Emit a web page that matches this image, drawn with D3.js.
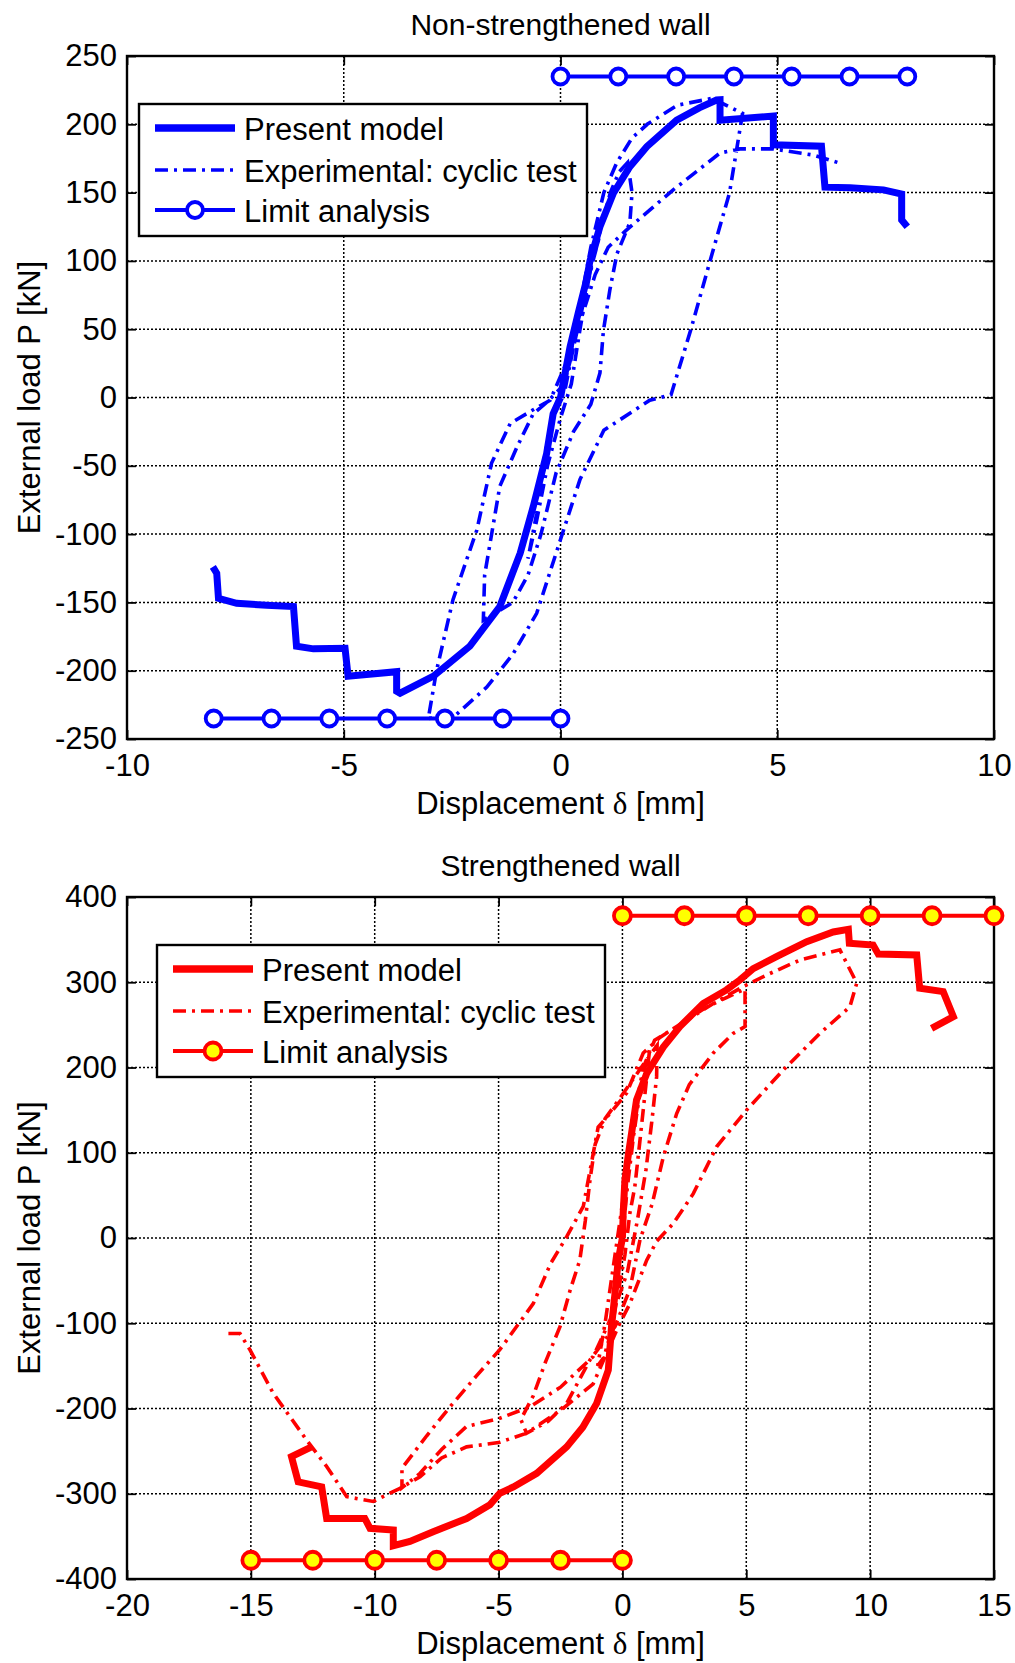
<!DOCTYPE html>
<html>
<head>
<meta charset="utf-8">
<script src="https://cdn.jsdelivr.net/npm/d3@7"></script>
<style>
  body { margin: 0; background: #fff; }
  text { font-family: "Liberation Sans", Arial, sans-serif; fill: #000; }
</style>
</head>
<body>
<svg id="chart" width="1015" height="1663"></svg>
<script>
// ---- tick labels ----
const xTicksTop = [-10, -5, 0, 5, 10];
const yTicksTop = [-250, -200, -150, -100, -50, 0, 50, 100, 150, 200, 250];
const xTicksBot = [-20, -15, -10, -5, 0, 5, 10, 15];
const yTicksBot = [-400, -300, -200, -100, 0, 100, 200, 300, 400];

const legendLabels = ["Present model", "Experimental: cyclic test", "Limit analysis"];

// ---- non-strengthened wall: [displacement mm, load kN] ----
const topModelPos = [[0,0],[0.22,37],[0.41,62],[0.6,86],[0.68,100],[0.91,125],[1.22,149.5],[1.6,169],[1.99,183.6],[2.68,203],[3.2,212],[3.6,217.8],[3.68,218],[3.68,203],[4.91,206],[4.91,185],[6.02,184],[6.1,154],[6.68,153.6],[7.45,152],[7.87,149],[7.87,130],[8.0,125]];
const topModelNeg = [[0,0],[-0.17,-12],[-0.32,-41],[-0.47,-60],[-0.63,-80],[-0.93,-114],[-1.4,-153],[-2.09,-182],[-2.93,-204],[-3.7,-216.5],[-3.78,-215],[-3.78,-200.7],[-4.9,-204],[-4.97,-183.6],[-5.7,-184],[-6.09,-182],[-6.16,-153],[-6.78,-152],[-7.47,-150.7],[-7.89,-147],[-7.93,-128.7],[-8.02,-124]];
const topExp = [[0,0],[0.25,30],[0.5,65],[0.75,100],[0.9,118],[0.7,95],[0.45,50],[0.25,10],[0,-15],[-0.3,-50],[-0.55,-90],[-0.75,-118],[-0.55,-85],[-0.35,-40],[-0.1,-5],[0.1,5],
  [0.35,45],[0.6,85],[0.9,120],[1.15,150],[1.35,165],[1.55,172],[1.65,150],[1.6,128],[1.3,105],[1.14,79],[0.99,49],[0.91,18],[0.7,-5],[0.3,-25],[-0.1,-55],[-0.45,-100],[-0.75,-130],[-1.1,-150],[-1.78,-163],[-1.75,-130],[-1.4,-65],[-1.0,-36],[-0.63,-12],[-0.3,-3],[0.1,10],
  [0.4,60],[0.7,110],[1.0,150],[1.3,172],[1.65,190],[2.0,200],[2.7,214],[3.5,219],[4.2,208],[3.9,150],[3.45,100],[3.0,49],[2.55,2],[2.06,-2],[1.0,-24],[0.45,-60],[0,-104],[-0.55,-158],[-1.1,-188],[-1.7,-212],[-2.4,-232],
  [-3.05,-235],[-2.86,-200],[-2.48,-148],[-1.93,-97],[-1.59,-48],[-1.16,-19],[-0.63,-9],[-0.24,-2],
  [0.2,30],[0.5,60],[0.8,90],[1.1,110],[1.5,122],[2.6,152],[3.68,179],[4.14,182],[4.91,182],[5.83,177.5],[6.45,171.5]];
const topLimitPos = [[0,235],[1.333,235],[2.667,235],[4,235],[5.333,235],[6.667,235],[8,235]];
const topLimitNeg = [[-8,-235],[-6.667,-235],[-5.333,-235],[-4,-235],[-2.667,-235],[-1.333,-235],[0,-235]];

// ---- strengthened wall ----
const botModelPos = [[0,0],[0.03,29],[0.1,68],[0.25,100],[0.37,123],[0.57,162],[0.98,193],[1.65,224],[2.32,248],[3.26,275],[4.2,291],[4.74,302.6],[5.28,316],[6.22,330],[7.44,347.6],[8.51,359],[9.12,362],[9.16,345.7],[10.12,343.7],[10.33,333],[11.88,332],[12.0,293],[12.95,289],[13.36,259.6],[12.48,246]];
const botModelNeg = [[0,0],[-0.17,-26],[-0.3,-65],[-0.44,-104],[-0.57,-155],[-1.04,-194],[-1.6,-222],[-2.25,-245],[-3.46,-276],[-4.4,-292],[-4.95,-299.5],[-5.35,-313],[-6.29,-329],[-7.64,-344.5],[-8.58,-356],[-9.25,-361],[-9.25,-342.5],[-10.19,-340.5],[-10.4,-329],[-11.94,-329],[-12.14,-292],[-13.09,-286],[-13.36,-256.5],[-12.55,-245]];
const botExp = [[0,0],[0.2,60],[0.45,120],[0.7,170],[0.95,205],[1.1,222],[0.95,180],[0.71,115],[0.5,60],[0.3,29],[0.1,-20],[-0.15,-60],[-0.45,-110],[-0.75,-140],[-1.0,-150],[-0.7,-100],[-0.45,-50],[-0.2,0],
  [0.1,60],[0.4,130],[0.84,200],[1.3,232],[2.3,250],[3.4,271],[4.2,282],[4.95,292],[4.95,248],[4.47,240],[3.67,217],[2.7,180],[2.19,146],[1.65,95],[1.2,40],[0.71,-2],
  [0.3,-60],[-0.3,-104],[-1.31,-143],[-2.25,-194],[-3.0,-215],[-3.87,-229],[-4.1,-213],
  [-3.6,-185],[-3.1,-145],[-2.52,-104],[-2.1,-60],[-1.72,-26],[-1.5,20],[-1.31,68],[-1.1,110],[-0.7,140],[-0.2,160],[0.4,185],[1.0,210],[1.4,226],
  [1.38,189],[1.2,140],[0.95,80],[0.6,20],[0.2,-40],[-0.4,-90],[-1.18,-139],[-2.5,-175],[-3.73,-198],[-5.0,-212],[-6.29,-221],[-7.3,-248],[-8.17,-276],[-8.9,-293],
  [-8.9,-270],[-7.9,-232],[-6.96,-198],[-5.9,-162],[-4.95,-131],[-3.6,-77],[-2.9,-30],[-2.25,1.5],[-1.58,37],[-1.18,99],[-0.98,130],[-0.5,146],[0.17,170],[0.84,217],[1.5,235],[2.19,248],[3.67,275],[4.88,295],[5.82,308.5],[7.16,326],[8.78,338],
  [9.46,299],[9.18,271],[7.97,240],[6.49,197],[5.01,150],[3.8,107],[2.86,52],[2.05,17],[1.38,-4],[0.98,-26],[0.3,-77],[-0.17,-104],[-1.18,-171],[-2.4,-200],[-3.87,-229],[-5.0,-240],[-6.29,-245],[-7.3,-258],[-8.17,-280],[-8.98,-293.6],[-10.06,-309],[-11.13,-303.5],[-11.94,-268],[-12.75,-237],[-14.1,-182],[-15.04,-131],[-15.44,-112],[-15.98,-112]];
const botLimitPos = [[0,378],[2.5,378],[5,378],[7.5,378],[10,378],[12.5,378],[15,378]];
const botLimitNeg = [[-15,-378],[-12.5,-378],[-10,-378],[-7.5,-378],[-5,-378],[-2.5,-378],[0,-378]];

const svg = d3.select("#chart");
const FONT = 31;
const DASHDOT = "13,6,3,6";

function drawPanel(p) {
  const g = svg.append("g").attr("transform", `translate(${p.left},${p.top})`);
  const x = d3.scaleLinear().domain(p.xDomain).range([0, p.width]);
  const y = d3.scaleLinear().domain(p.yDomain).range([p.height, 0]);

  // dotted grid
  g.append("g").selectAll("line").data(p.xTicks.slice(1, -1)).enter().append("line")
    .attr("x1", d => x(d)).attr("x2", d => x(d)).attr("y1", 0).attr("y2", p.height)
    .attr("stroke", "#000").attr("stroke-width", 1.5).attr("stroke-dasharray", "2,2");
  g.append("g").selectAll("line").data(p.yTicks.slice(1, -1)).enter().append("line")
    .attr("y1", d => y(d)).attr("y2", d => y(d)).attr("x1", 0).attr("x2", p.width)
    .attr("stroke", "#000").attr("stroke-width", 1.5).attr("stroke-dasharray", "2,2");

  // axes, ticks point inward like matlab
  const fmt = d => String(d);
  const ax = [
    g.append("g").attr("transform", `translate(0,${p.height})`)
      .call(d3.axisBottom(x).tickValues(p.xTicks).tickSize(-9).tickPadding(15).tickFormat(fmt)),
    g.append("g")
      .call(d3.axisLeft(y).tickValues(p.yTicks).tickSize(-9).tickPadding(10).tickFormat(fmt)),
    g.append("g")
      .call(d3.axisTop(x).tickValues(p.xTicks).tickSize(-9).tickFormat("")),
    g.append("g").attr("transform", `translate(${p.width},0)`)
      .call(d3.axisRight(y).tickValues(p.yTicks).tickSize(-9).tickFormat(""))
  ];
  ax.forEach(a => {
    a.attr("font-size", FONT).attr("font-family", null);
    a.select(".domain").remove();
    a.selectAll(".tick line").attr("stroke-width", 1.8);
  });

  g.append("rect").attr("width", p.width).attr("height", p.height)
    .attr("fill", "none").attr("stroke", "#000").attr("stroke-width", 2.4);

  const line = d3.line().x(d => x(d[0])).y(d => y(d[1]));

  g.append("path").datum(p.exp).attr("d", line)
    .attr("fill", "none").attr("stroke", p.color).attr("stroke-width", 3.6)
    .attr("stroke-dasharray", DASHDOT);

  [p.modelPos, p.modelNeg].forEach(s => {
    g.append("path").datum(s).attr("d", line)
      .attr("fill", "none").attr("stroke", p.color).attr("stroke-width", 7)
      .attr("stroke-linejoin", "miter").attr("stroke-miterlimit", 3);
  });

  [p.limitPos, p.limitNeg].forEach(s => {
    g.append("path").datum(s).attr("d", line)
      .attr("fill", "none").attr("stroke", p.color).attr("stroke-width", 3.8);
    g.append("g").selectAll("circle").data(s).enter().append("circle")
      .attr("cx", d => x(d[0])).attr("cy", d => y(d[1])).attr("r", p.markerR)
      .attr("fill", p.markerFill).attr("stroke", p.color).attr("stroke-width", 3.8);
  });

  // legend
  const lg = g.append("g").attr("transform", `translate(${p.legend[0]},${p.legend[1]})`);
  lg.append("rect").attr("width", 448).attr("height", 132)
    .attr("fill", "#fff").attr("stroke", "#000").attr("stroke-width", 2.4);
  const rows = [24, 66, 106];
  lg.append("line").attr("x1", 16).attr("x2", 96).attr("y1", rows[0]).attr("y2", rows[0])
    .attr("stroke", p.color).attr("stroke-width", 7.5);
  lg.append("line").attr("x1", 16).attr("x2", 96).attr("y1", rows[1]).attr("y2", rows[1])
    .attr("stroke", p.color).attr("stroke-width", 3.6).attr("stroke-dasharray", DASHDOT);
  lg.append("line").attr("x1", 16).attr("x2", 96).attr("y1", rows[2]).attr("y2", rows[2])
    .attr("stroke", p.color).attr("stroke-width", 3.8);
  lg.append("circle").attr("cx", 56).attr("cy", rows[2]).attr("r", p.markerR)
    .attr("fill", p.markerFill).attr("stroke", p.color).attr("stroke-width", 3.8);
  lg.selectAll("text.lab").data(legendLabels).enter().append("text")
    .attr("x", 105).attr("y", (d, i) => rows[i] + 12)
    .attr("font-size", FONT).text(d => d);

  // titles and axis labels
  g.append("text").attr("x", p.width / 2).attr("y", -21).attr("text-anchor", "middle")
    .attr("font-size", 30).text(p.title);
  const xl = g.append("text").attr("x", p.width / 2).attr("y", p.height + 75)
    .attr("text-anchor", "middle").attr("font-size", FONT);
  xl.append("tspan").text("Displacement ");
  xl.append("tspan").attr("font-family", "'Liberation Serif', serif").text("δ");
  xl.append("tspan").text(" [mm]");
  g.append("text").attr("transform", `translate(${40 - p.left},${p.height / 2}) rotate(-90)`)
    .attr("text-anchor", "middle").attr("font-size", FONT).text("External load P [kN]");
}

drawPanel({
  left: 127, top: 56, width: 867, height: 683,
  xDomain: [-10, 10], yDomain: [-250, 250], xTicks: xTicksTop, yTicks: yTicksTop,
  color: "#0000ff", markerFill: "#fff", markerR: 8,
  exp: topExp, modelPos: topModelPos, modelNeg: topModelNeg,
  limitPos: topLimitPos, limitNeg: topLimitNeg,
  legend: [12, 48], title: "Non-strengthened wall"
});

drawPanel({
  left: 127, top: 897, width: 867, height: 682,
  xDomain: [-20, 15], yDomain: [-400, 400], xTicks: xTicksBot, yTicks: yTicksBot,
  color: "#ff0000", markerFill: "#ffff00", markerR: 8.5,
  exp: botExp, modelPos: botModelPos, modelNeg: botModelNeg,
  limitPos: botLimitPos, limitNeg: botLimitNeg,
  legend: [30, 48], title: "Strengthened wall"
});
</script>
</body>
</html>
